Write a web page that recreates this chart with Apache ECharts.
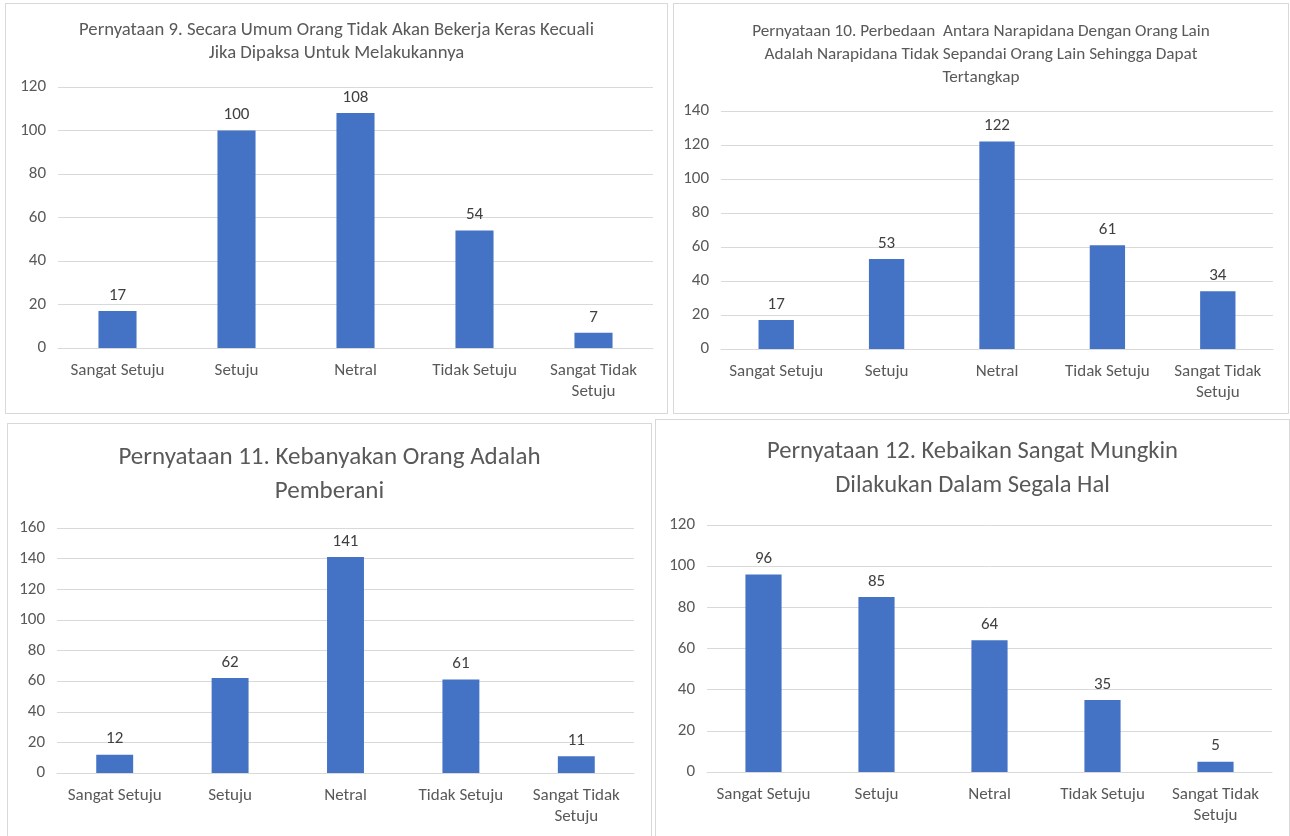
<!DOCTYPE html>
<html>
<head>
<meta charset="utf-8">
<script src="https://cdn.jsdelivr.net/npm/echarts@6/dist/echarts.min.js"></script>
<style>
    html, body { margin: 0; padding: 0; background: #fff; overflow: hidden; }
    .panel { position: absolute; box-sizing: border-box; border: 1px solid #d9d9d9; background: #fff; }
    #c9  { left: 5px;   top: 3px;   width: 663px; height: 411px; }
    #c10 { left: 673px; top: 3px;   width: 616px; height: 411px; }
    #c11 { left: 7px;   top: 423px; width: 645px; height: 430px; }
    #c12 { left: 655px; top: 419px; width: 635px; height: 430px; }
</style>
</head>
<body>
<div id="c9" class="panel"></div>
<div id="c10" class="panel"></div>
<div id="c11" class="panel"></div>
<div id="c12" class="panel"></div>
<script>
// kategori jawaban
var kategori = ["Sangat Setuju", "Setuju", "Netral", "Tidak Setuju", "Sangat Tidak Setuju"];

// jumlah responden per pernyataan
var nilaiP9  = [17, 100, 108, 54, 7];
var nilaiP10 = [17, 53, 122, 61, 34];
var nilaiP11 = [12, 62, 141, 61, 11];
var nilaiP12 = [96, 85, 64, 35, 5];

var judulP9  = "Pernyataan 9. Secara Umum Orang Tidak Akan Bekerja Keras Kecuali\nJika Dipaksa Untuk Melakukannya";
var judulP10 = "Pernyataan 10. Perbedaan  Antara Narapidana Dengan Orang Lain\nAdalah Narapidana Tidak Sepandai Orang Lain Sehingga Dapat\nTertangkap";
var judulP11 = "Pernyataan 11. Kebanyakan Orang Adalah\nPemberani";
var judulP12 = "Pernyataan 12. Kebaikan Sangat Mungkin\nDilakukan Dalam Segala Hal";

// sumbu y
var maxP9 = 120, maxP10 = 140, maxP11 = 160, maxP12 = 120;

var font = '"Liberation Sans Narrow", Carlito, "Open Sans", sans-serif';

function buatChart(id, judul, nilai, yMax, opt){
    var chart = echarts.init(document.getElementById(id));
    chart.setOption({
        animation: false,
        title: {
            text: judul,
            left: "center",
            top: opt.titleTop,
            textStyle: {
                color: "#595959",
                fontFamily: font,
                fontWeight: "normal",
                fontSize: opt.titleSize,
                lineHeight: opt.titleLine
            }
        },
        grid: {
            left: opt.left,
            right: opt.right,
            top: opt.top,
            height: opt.height
        },
        xAxis: {
            type: "category",
            data: kategori,
            axisLine: { lineStyle: { color: "#d9d9d9", width: 1 } },
            axisTick: { show: false },
            axisLabel: {
                interval: 0,
                margin: 12,
                color: "#595959",
                fontFamily: font,
                fontSize: 17,
                lineHeight: 21,
                formatter: function (v){
                    //label panjang dipecah dua baris
                    if(v.length > 14){
                        var i = v.lastIndexOf(" ");
                        return v.substring(0, i) + "\n" + v.substring(i + 1);
                    }
                    return v;
                }
            }
        },
        yAxis: {
            type: "value",
            min: 0,
            max: yMax,
            interval: 20,
            axisLine: { show: false },
            axisTick: { show: false },
            splitLine: { lineStyle: { color: "#d9d9d9", width: 1 } },
            axisLabel: {
                margin: 12,
                color: "#595959",
                fontFamily: font,
                fontSize: 17
            }
        },
        series: [{
            type: "bar",
            data: nilai,
            barWidth: "32%",
            itemStyle: { color: "#4472c4" },
            label: {
                show: true,
                position: "top",
                distance: 7,
                color: "#404040",
                fontFamily: font,
                fontSize: 17
            }
        }]
    });
    return chart;
}

buatChart("c9", judulP9, nilaiP9, maxP9,
    { titleTop: 10, titleSize: 18.7, titleLine: 23, left: 52, right: 14, top: 83, height: 261 });
buatChart("c10", judulP10, nilaiP10, maxP10,
    { titleTop: 11, titleSize: 17.2, titleLine: 23, left: 47, right: 15, top: 107, height: 238 });
buatChart("c11", judulP11, nilaiP11, maxP11,
    { titleTop: 12, titleSize: 25, titleLine: 34, left: 49, right: 17, top: 104, height: 245 });
buatChart("c12", judulP12, nilaiP12, maxP12,
    { titleTop: 10, titleSize: 24.6, titleLine: 34, left: 51, right: 17, top: 105, height: 247 });
</script>
</body>
</html>
